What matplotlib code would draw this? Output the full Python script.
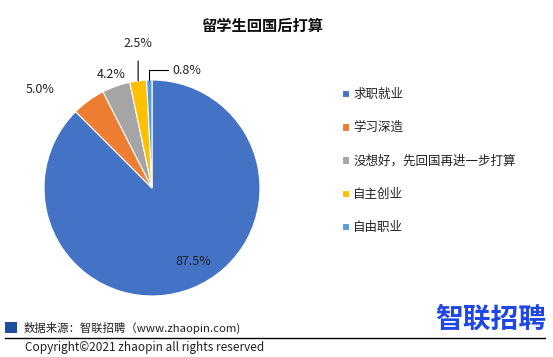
import matplotlib
matplotlib.use("Agg")
import numpy as np
import matplotlib.pyplot as plt
from matplotlib.patches import Rectangle
from matplotlib.lines import Line2D

plt.rcParams['font.family'] = ['Noto Sans CJK SC', 'DejaVu Sans']

title = "留学生回国后打算"
categories = ["求职就业", "学习深造", "没想好，先回国再进一步打算", "自主创业", "自由职业"]
values = [87.5, 5.0, 4.2, 2.5, 0.8]
colors = ["#4472C4", "#ED7D31", "#A5A5A5", "#FFC000", "#5B9BD5"]
label_pos = [(0.38, -0.685), (-1.04, 0.91), (-0.38, 1.05), (-0.12, 1.34), (0.30, 1.09)]

W, H = 553, 357
fig = plt.figure(figsize=(W / 100, H / 100), dpi=100)

def fx(px):
    return px / W

def fy(py):
    return 1 - py / H

ax = fig.add_axes([22 / W, (H - 318) / H, 260 / W, 260 / H])
wedges, _ = ax.pie(values, colors=colors, startangle=90, counterclock=False,
                   radius=1.0, wedgeprops=dict(edgecolor="white", linewidth=0.8))
ax.set_xlim(-130 / 108, 130 / 108)
ax.set_ylim(-130 / 108, 130 / 108)
ax.set_aspect("equal")
ax.axis("off")

for i, (v, (tx, ty)) in enumerate(zip(values, label_pos)):
    txt = f"{v:.1f}%"
    w = wedges[i]
    ang = np.deg2rad((w.theta1 + w.theta2) / 2)
    ex, ey = np.cos(ang), np.sin(ang)
    if i == 3:
        ax.annotate(txt, xy=(ex, ey), xytext=(ex, ty), ha="center", va="center",
                    fontsize=9, color="#222222",
                    arrowprops=dict(arrowstyle="-", color="black", lw=0.8,
                                    shrinkA=6, shrinkB=0))
    elif i == 4:
        ax.annotate(txt, xy=(ex, ey), xytext=(0.19, ty), ha="left", va="center",
                    fontsize=9, color="#222222",
                    arrowprops=dict(arrowstyle="-", color="black", lw=0.8,
                                    shrinkA=1, shrinkB=0,
                                    connectionstyle="angle,angleA=0,angleB=90,rad=0"))
    else:
        ax.text(tx, ty, txt, ha="center", va="center", fontsize=9, color="#222222")

fig.text(fx(262), fy(26), title, ha="center", va="center", fontsize=11,
         fontweight="bold", color="#111111")

leg = fig.legend(wedges, categories, loc="upper left",
                 bbox_to_anchor=(fx(342), fy(88)), frameon=False,
                 fontsize=9, handlelength=0.55, handleheight=0.55,
                 handletextpad=0.35, labelspacing=1.62, borderaxespad=0,
                 borderpad=0)
for t in leg.get_texts():
    t.set_color("#222222")

# footer
fig.patches.append(Rectangle((fx(5), fy(333)), 12 / W, 11 / H, transform=fig.transFigure,
                             facecolor="#1F4E9F", edgecolor="none"))
fig.text(fx(24), fy(328), "数据来源：智联招聘（www.zhaopin.com)", ha="left", va="center",
         fontsize=8.2, color="#222222")
fig.add_artist(Line2D([fx(5), fx(545)], [fy(337.5), fy(337.5)], transform=fig.transFigure,
                      color="black", lw=1.0))
fig.text(fx(25), fy(348), "Copyright©2021 zhaopin all rights reserved", ha="left",
         va="center", fontsize=8.5, color="#222222")
fig.text(fx(491), fy(320), "智联招聘", ha="center", va="center", fontsize=20,
         fontweight="bold", color="#1F47E6")

fig.savefig("out.png", dpi=100)
